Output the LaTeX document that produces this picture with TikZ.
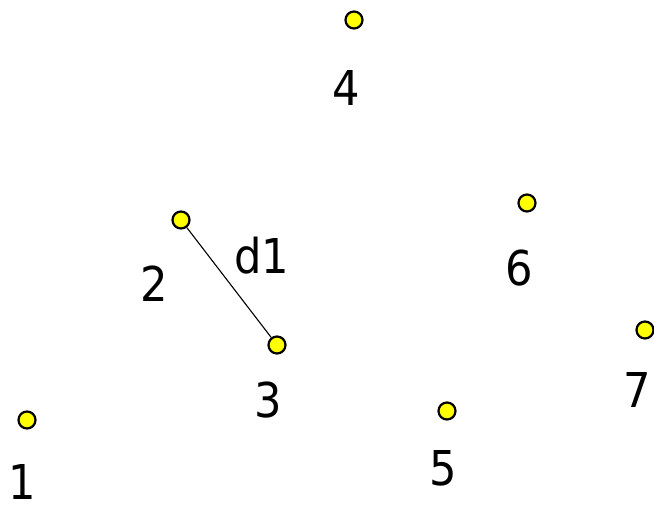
\documentclass[tikz,border=0pt]{standalone}
\usepackage{fontspec}
\setmainfont{DejaVu Sans Condensed}
\usepackage{tikz}
\usetikzlibrary{positioning}
\definecolor{dotY}{HTML}{FFFF00}
\tikzset{
  dot/.style ={circle, draw=black, fill=dotY, line width=2.2pt, inner sep=0pt, minimum size=17pt},
  num/.style ={font=\fontsize{48}{48}\selectfont, text=black, inner sep=0pt},
  seg/.style ={line width=1.1pt, draw=black},
}
\begin{document}
\begin{tikzpicture}[x=1pt, y=1pt]
  \useasboundingbox (0,0) rectangle (654,511);
  % points
  \node[dot] (p1) at (27,91) {};
  \node[dot] (p2) at (181,291) {};
  \node[dot] (p3) at (277,166) {};
  \node[dot] (p4) at (354,491) {};
  \node[dot] (p5) at (447,100) {};
  \node[dot] (p6) at (527,308) {};
  \node[dot] (p7) at (645,181) {};
  % labels
  \node[num] (l1) at (22,29) {1};
  \node[num] (l2) at (154,227) {2};
  \node[num] (l3) at (268,111) {3};
  \node[num] (l4) at (346,423) {4};
  \node[num] (l5) at (443,43) {5};
  \node[num] (l6) at (519,243) {6};
  \node[num] (l7) at (637,121) {7};
  % distance
  \draw[seg] (p2) -- (p3);
  \node[num] (d1) at (262,255) {d1};
\end{tikzpicture}
\end{document}
